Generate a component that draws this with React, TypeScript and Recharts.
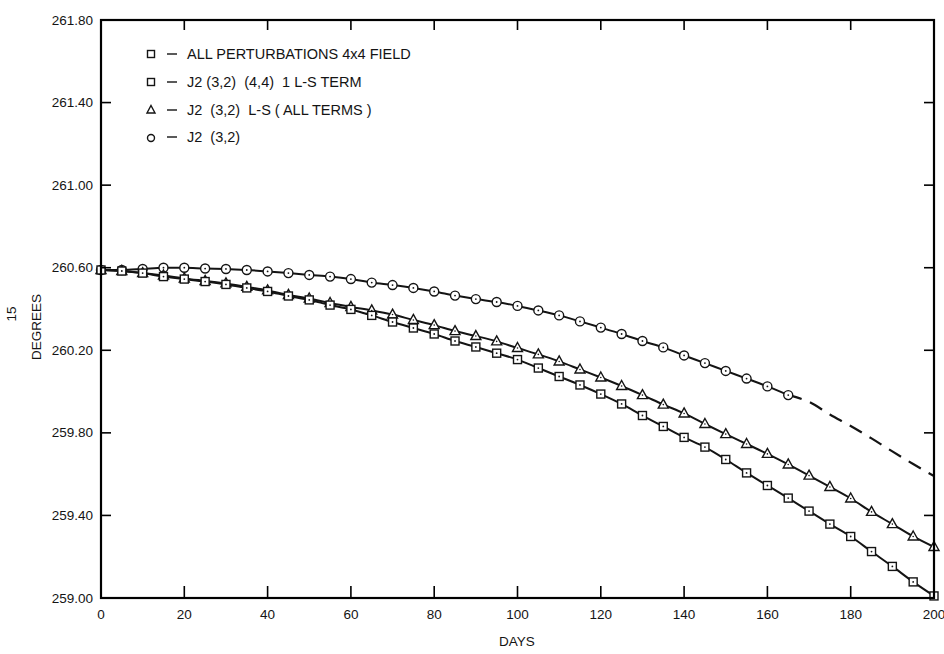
import React from 'react';
import { LineChart, Line, XAxis, YAxis, Customized } from 'recharts';

// days sampled every 5 days
const days = [0, 5, 10, 15, 20, 25, 30, 35, 40, 45, 50, 55, 60, 65, 70, 75, 80, 85, 90, 95, 100,
  105, 110, 115, 120, 125, 130, 135, 140, 145, 150, 155, 160, 165, 170, 175, 180, 185, 190, 195, 200];

// squares: all perturbations 4x4 field / J2 (3,2) (4,4) 1 L-S term (coincide)
const squareVals = [260.589, 260.584, 260.574, 260.557, 260.545, 260.533, 260.519, 260.502, 260.485, 260.463,
  260.444, 260.419, 260.398, 260.369, 260.337, 260.308, 260.279, 260.245, 260.216, 260.186, 260.155,
  260.114, 260.073, 260.032, 259.988, 259.940, 259.884, 259.831, 259.778, 259.731, 259.671,
  259.606, 259.545, 259.484, 259.421, 259.358, 259.298, 259.225, 259.153, 259.078, 259.010];

// triangles: J2 (3,2) L-S (all terms)
const triangleVals = [260.589, 260.584, 260.574, 260.562, 260.548, 260.536, 260.524, 260.507, 260.490, 260.468,
  260.451, 260.429, 260.410, 260.393, 260.373, 260.347, 260.322, 260.293, 260.269, 260.243, 260.211,
  260.180, 260.146, 260.107, 260.068, 260.027, 259.983, 259.937, 259.894, 259.843, 259.794,
  259.746, 259.698, 259.647, 259.593, 259.538, 259.482, 259.417, 259.358, 259.298, 259.247];

// circles: J2 (3,2), days 0..165
const circleVals = [260.589, 260.589, 260.594, 260.600, 260.600, 260.596, 260.594, 260.589, 260.582, 260.574,
  260.565, 260.557, 260.545, 260.528, 260.516, 260.502, 260.485, 260.465, 260.448, 260.434, 260.415,
  260.393, 260.369, 260.340, 260.310, 260.279, 260.245, 260.214, 260.175, 260.138, 260.100,
  260.063, 260.025, 259.983];

// dashed extrapolation of J2 (3,2), days 165..200
const dashedVals = [259.983, 259.950, 259.889, 259.833, 259.773, 259.710, 259.649, 259.591];

const xTicks = [0, 20, 40, 60, 80, 100, 120, 140, 160, 180, 200];
const yTicks = [259.0, 259.4, 259.8, 260.2, 260.6, 261.0, 261.4, 261.8];
const X_MIN = 0, X_MAX = 200, Y_MIN = 259, Y_MAX = 261.8;

const dashStart = circleVals.length - 1;
const data = days.map((d, i) => ({
  day: d,
  sq: squareVals[i],
  tri: triangleVals[i],
  circ: i < circleVals.length ? circleVals[i] : null,
  ext: i >= dashStart ? dashedVals[i - dashStart] : null,
}));

const W = 944, H = 654;
const margin = { top: 20, right: 10, left: 0, bottom: 0 };
const Y_AXIS_W = 101, X_AXIS_H = 56;
const area = {
  x: margin.left + Y_AXIS_W,
  y: margin.top,
  width: W - margin.left - margin.right - Y_AXIS_W,
  height: H - margin.top - margin.bottom - X_AXIS_H,
};

const INK = '#141414';
const FONT = '"Liberation Sans", Arial, sans-serif';

const SquareMark = ({ cx, cy }: any) => (
  <g>
    <rect x={cx - 4} y={cy - 4} width={8} height={8} fill="#fff" stroke={INK} strokeWidth={1.4} />
    <circle cx={cx} cy={cy} r={0.9} fill={INK} />
  </g>
);
const TriMark = ({ cx, cy }: any) => (
  <g>
    <path d={`M${cx},${cy - 5.5} L${cx + 5},${cy + 3.5} L${cx - 5},${cy + 3.5} Z`} fill="#fff" stroke={INK} strokeWidth={1.4} />
    <circle cx={cx} cy={cy} r={0.8} fill={INK} />
  </g>
);
const CircMark = ({ cx, cy }: any) => (
  <g>
    <circle cx={cx} cy={cy} r={4.5} fill="#fff" stroke={INK} strokeWidth={1.4} />
    <circle cx={cx} cy={cy} r={0.9} fill={INK} />
  </g>
);

const dotFn = (Mark: any, k: string) => (p: any) =>
  p.cy == null || p.value == null ? <g key={`${k}${p.index}`} /> : <Mark key={`${k}${p.index}`} cx={p.cx} cy={p.cy} />;

const bottomLabel = ({ x, y, payload }: any) => (
  <text x={x} y={y + 21} textAnchor="middle" fontSize={13.5} fontFamily={FONT} fill={INK}>{payload.value}</text>
);
const leftLabel = ({ x, y, payload }: any) => (
  <text x={x - 8} y={y + 4.5} textAnchor="end" fontSize={13.5} fontFamily={FONT} fill={INK}>{payload.value.toFixed(2)}</text>
);

const innerX = xTicks.filter((t) => t > X_MIN && t < X_MAX);
const innerY = yTicks.filter((t) => t > Y_MIN && t < Y_MAX);
const sx = (v: number) => area.x + ((v - X_MIN) / (X_MAX - X_MIN)) * area.width;
const sy = (v: number) => area.y + ((Y_MAX - v) / (Y_MAX - Y_MIN)) * area.height;

// box frame with inward ticks on all four sides (same layout as the chart's plot area)
const FrameOverlay = () => {
  const { x, y, width, height } = area;
  const b = y + height, r = x + width;
  return (
    <svg width={W} height={H} style={{ position: 'absolute', left: 0, top: 0, pointerEvents: 'none' }}>
      <rect x={x} y={y} width={width} height={height} fill="none" stroke="#000" strokeWidth={2.2} />
      {innerX.map((t) => (
        <g key={`x${t}`}>
          <line x1={sx(t)} y1={b} x2={sx(t)} y2={b - 12} stroke="#000" strokeWidth={1.6} />
          <line x1={sx(t)} y1={y} x2={sx(t)} y2={y + 10} stroke="#000" strokeWidth={1.6} />
        </g>
      ))}
      {innerY.map((t) => (
        <g key={`y${t}`}>
          <line x1={x} y1={sy(t)} x2={x + 10} y2={sy(t)} stroke="#000" strokeWidth={1.6} />
          <line x1={r} y1={sy(t)} x2={r - 10} y2={sy(t)} stroke="#000" strokeWidth={1.6} />
        </g>
      ))}
    </svg>
  );
};

const legendRows = [
  { label: 'ALL PERTURBATIONS 4x4 FIELD', mark: 'sq' },
  { label: 'J2 (3,2)  (4,4)  1 L-S TERM', mark: 'sq' },
  { label: 'J2  (3,2)  L-S ( ALL TERMS )', mark: 'tri' },
  { label: 'J2  (3,2)', mark: 'circ' },
];
const legendY = [54, 82, 110, 137];

const Annotations = () => (
  <g>
    {legendRows.map((r, i) => {
      const y = legendY[i];
      return (
        <g key={r.label}>
          {r.mark === 'sq' && <rect x={147.5} y={y - 3.5} width={7} height={7} fill="#fff" stroke={INK} strokeWidth={1.4} />}
          {r.mark === 'tri' && <path d={`M151,${y - 4.5} L155,${y + 3} L147,${y + 3} Z`} fill="#fff" stroke={INK} strokeWidth={1.4} />}
          {r.mark === 'circ' && <circle cx={151} cy={y + 1} r={3.5} fill="#fff" stroke={INK} strokeWidth={1.4} />}
          <line x1={167} y1={y} x2={177} y2={y} stroke={INK} strokeWidth={1.4} />
          <text x={187} y={y + 5} fontSize={14.5} fontFamily={FONT} fill={INK} style={{ whiteSpace: 'pre' }}>{r.label}</text>
        </g>
      );
    })}
    <text x={517} y={646} textAnchor="middle" fontSize={13.5} fontFamily={FONT} fill={INK}>DAYS</text>
    <text transform="translate(41,327) rotate(-90)" textAnchor="middle" fontSize={13.5} fontFamily={FONT} fill={INK}>DEGREES</text>
    <text transform="translate(16,314) rotate(-90)" textAnchor="middle" fontSize={13.5} fontFamily={FONT} fill={INK}>15</text>
  </g>
);

export default function App() {
  return (
    <div style={{ position: 'absolute', left: 0, top: 0, width: W, height: H, background: '#fff' }}>
      <LineChart width={W} height={H} data={data} margin={margin}>
        <XAxis dataKey="day" type="number" domain={[X_MIN, X_MAX]} ticks={xTicks} interval={0} height={X_AXIS_H}
          axisLine={{ stroke: INK, strokeWidth: 2 }} tickLine={false} tickSize={0} tickMargin={0} tick={bottomLabel} />
        <YAxis type="number" domain={[Y_MIN, Y_MAX]} ticks={yTicks} interval={0} width={Y_AXIS_W}
          axisLine={{ stroke: INK, strokeWidth: 2 }} tickLine={false} tickSize={0} tickMargin={0} tick={leftLabel} />
        <Line dataKey="ext" stroke={INK} strokeWidth={2.2} strokeDasharray="14 9" dot={false} type="monotone" isAnimationActive={false} />
        <Line dataKey="circ" stroke={INK} strokeWidth={2} dot={dotFn(CircMark, 'c')} type="monotone" isAnimationActive={false} />
        <Line dataKey="tri" stroke={INK} strokeWidth={2} dot={dotFn(TriMark, 't')} type="monotone" isAnimationActive={false} />
        <Line dataKey="sq" stroke={INK} strokeWidth={2} dot={dotFn(SquareMark, 's')} type="monotone" isAnimationActive={false} />
        <Customized component={Annotations} />
      </LineChart>
      <FrameOverlay />
    </div>
  );
}
